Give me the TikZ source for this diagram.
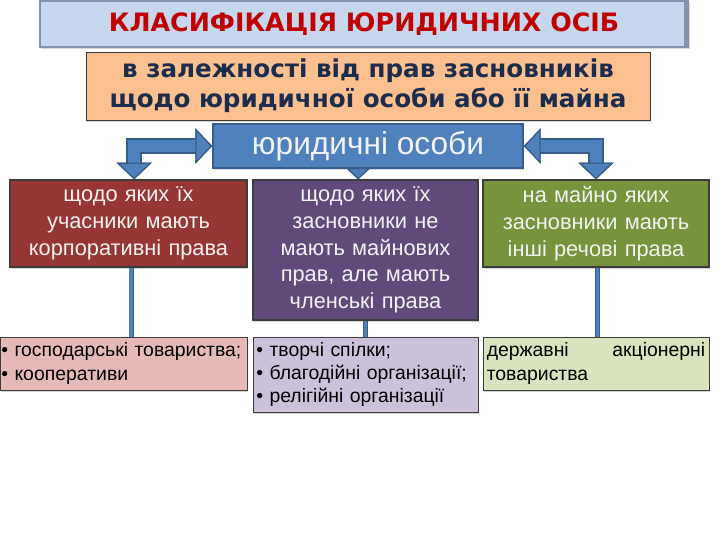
\documentclass[tikz,border=0pt]{standalone}
\usepackage{fontspec}
\setmainfont{Liberation Sans}
\newfontfamily\headfont{DejaVu Sans}
\usepackage{tikz}
\usetikzlibrary{arrows.meta, positioning, calc, shadows}
\definecolor{titlefill}{RGB}{198,214,236}
\definecolor{titleedge}{RGB}{130,146,172}
\definecolor{titletext}{RGB}{192,0,0}
\definecolor{hdrorange}{RGB}{250,192,144}
\definecolor{navytext}{RGB}{28,44,76}
\definecolor{rootfill}{RGB}{79,129,189}
\definecolor{rootedge}{RGB}{56,93,138}
\definecolor{lighttext}{RGB}{242,242,242}
\definecolor{corpred}{RGB}{150,55,53}
\definecolor{membpurple}{RGB}{96,74,123}
\definecolor{propgreen}{RGB}{119,147,60}
\definecolor{listred}{RGB}{230,185,184}
\definecolor{listpurple}{RGB}{204,193,218}
\definecolor{listgreen}{RGB}{215,228,189}
\definecolor{boxedge}{RGB}{60,60,60}
\tikzset{
  bigtip/.tip={Triangle[width=25pt, length=12pt, fill=rootfill, color=rootedge, line width=0.9pt]},
  smalltip/.tip={Triangle[width=17pt, length=8pt, fill=rootfill, color=rootedge, line width=0.9pt]},
  titlebar/.style={rectangle, draw=titleedge, fill=titlefill, line width=1.2pt,
    minimum width=16.2cm, minimum height=1.15cm, text=titletext,
    font=\headfont\bfseries\fontsize{18}{22}\selectfont,
    drop shadow={shadow xshift=1pt, shadow yshift=-1.5pt, opacity=0.3}},
  headbox/.style={rectangle, draw=boxedge, fill=hdrorange, line width=0.6pt,
    minimum width=14.1cm, minimum height=1.7cm, text=navytext, align=center,
    font=\headfont\bfseries\fontsize{17.5}{21.5}\selectfont,
    drop shadow={shadow xshift=1pt, shadow yshift=-1.5pt, opacity=0.3}},
  rootbox/.style={rectangle, draw=rootedge, fill=rootfill, line width=1pt,
    minimum width=7.75cm, minimum height=1.1cm, text=lighttext,
    font=\fontsize{22.5}{26}\selectfont,
    drop shadow={shadow xshift=1pt, shadow yshift=-1.5pt, opacity=0.3}},
  catbox/.style={rectangle, draw=boxedge, line width=0.8pt, text=lighttext,
    align=center, inner xsep=0.15cm, font=\fontsize{15.5}{19}\selectfont,
    drop shadow={shadow xshift=1pt, shadow yshift=-1.5pt, opacity=0.35}},
  listbox/.style={rectangle, draw=boxedge, line width=0.6pt, text=black,
    inner xsep=0.08cm, font=\fontsize{13.8}{16.4}\selectfont,
    drop shadow={shadow xshift=1pt, shadow yshift=-1.5pt, opacity=0.35}},
  bigarrow/.style={bigtip-bigtip, line width=9pt, draw=rootfill,
    preaction={draw=rootedge, line width=11pt}},
  smallarrow/.style={-smalltip, line width=7pt, draw=rootfill,
    preaction={draw=rootedge, line width=9pt}},
  linkline/.style={line width=2.6pt, draw=rootfill,
    preaction={draw=rootedge, line width=4pt}}
}

\begin{document}
\begin{tikzpicture}[x=0.025cm, y=-0.025cm]
  \useasboundingbox (0,0) rectangle (720,540);

  % ── Header ──────────────────────────────────────────────────────────────────
  \node[titlebar] (title) at (364,24) {КЛАСИФІКАЦІЯ ЮРИДИЧНИХ ОСІБ};
  \fill[titleedge] ($(title.north east)+(-5,0)$) rectangle (title.south east);
  \node[headbox] (criterion) at (368,86) {в залежності від прав засновників\\щодо юридичної особи або її майна};
  \node[rootbox] (root) at (368,146) {юридичні особи};

  % ── Categories ──────────────────────────────────────────────────────────────
  \node[catbox, fill=corpred, minimum width=5.925cm, minimum height=2.175cm, text width=5.6cm]
    (corp) at (128.5,223.5) {щодо яких їх\\учасники мають\\корпоративні права};
  \node[catbox, fill=membpurple, minimum width=5.625cm, minimum height=3.5cm, text width=5.3cm]
    (memb) at (365.5,250) {щодо яких їх\\засновники не\\мають майнових\\прав, але мають\\членські права};
  \node[catbox, fill=propgreen, minimum width=5.65cm, minimum height=2.175cm, text width=5.3cm]
    (prop) at (596,223.5) {на майно яких\\засновники мають\\інші речові права};

  % ── Examples ────────────────────────────────────────────────────────────────
  \node[listbox, fill=listred, minimum width=6.175cm, minimum height=1.325cm, inner xsep=0.03cm, text width=6.11cm, align=left]
    (corplist) at (123.5,363.5) {• господарські товариства;\\• кооперативи};
  \node[listbox, fill=listpurple, minimum width=5.625cm, minimum height=1.875cm, text width=5.46cm, align=left]
    (memblist) at (365.5,374.5) {• творчі спілки;\\• благодійні організації;\\• релігійні організації};
  \node[listbox, fill=listgreen, minimum width=5.65cm, minimum height=1.325cm, text width=5.46cm, align=justify]
    (proplist) at (596,363.5) {державні акціонерні товариства};

  % ── Arrows ──────────────────────────────────────────────────────────────────
  \draw[bigarrow] (root.west) -| ([xshift=4pt]corp.north);
  \draw[bigarrow] (root.east) -| (prop.north);
  \draw[smallarrow] ([xshift=-7pt]root.south) -- ([xshift=-7pt]root.south |- memb.north);
  % Links to examples
  \draw[linkline] ([xshift=2pt]corp.south) -- ([xshift=2pt]corp.south |- corplist.north);
  \draw[linkline] (memb.south) -- (memb.south |- memblist.north);
  \draw[linkline] ([xshift=1pt]prop.south) -- ([xshift=1pt]prop.south |- proplist.north);
\end{tikzpicture}
\end{document}
